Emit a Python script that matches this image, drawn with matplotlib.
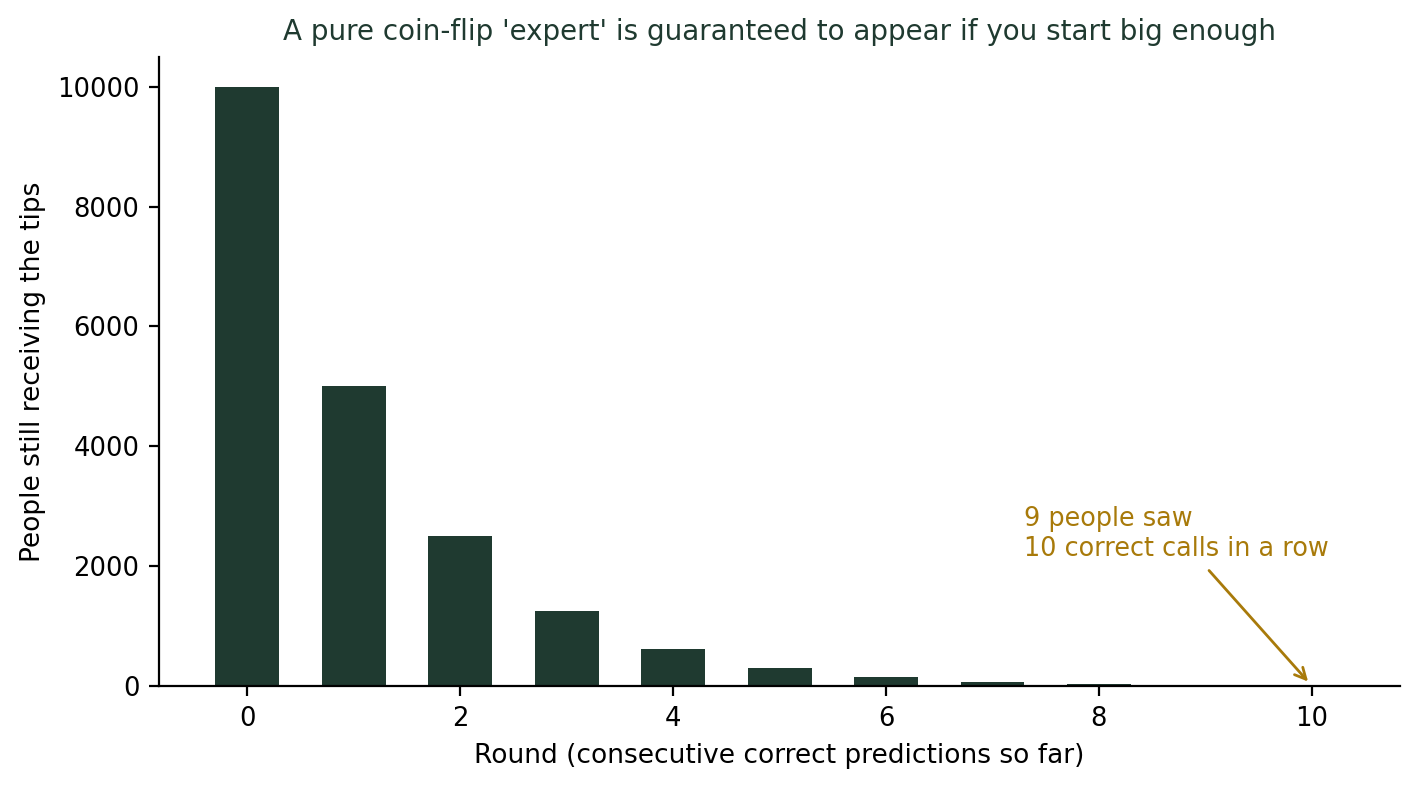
import matplotlib
matplotlib.use("Agg")
import matplotlib.pyplot as plt

rounds = [0, 1, 2, 3, 4, 5, 6, 7, 8, 9, 10]
people = [10000, 5000, 2500, 1250, 625, 312, 156, 78, 39, 19, 9]

bar_color = "#1f3a30"
note_color = "#a87a0a"

fig, ax = plt.subplots(figsize=(7.1, 3.935), dpi=200)
fig.subplots_adjust(left=0.112, right=0.986, top=0.928, bottom=0.128)

ax.bar(rounds, people, width=0.6, color=bar_color)

ax.set_title("A pure coin-flip 'expert' is guaranteed to appear if you start big enough",
             fontsize=10, color=bar_color)
ax.set_xlabel("Round (consecutive correct predictions so far)", fontsize=9.5)
ax.set_ylabel("People still receiving the tips", fontsize=9.5)
ax.tick_params(labelsize=9.3)
ax.spines["top"].set_visible(False)
ax.spines["right"].set_visible(False)

ax.text(7.3, 2080, "9 people saw\n10 correct calls in a row",
        color=note_color, fontsize=9.2, ha="left", va="bottom")
ax.annotate("", xy=(rounds[-1], people[-1]), xytext=(9, 2000),
            arrowprops=dict(arrowstyle="->", color=note_color, lw=1))

fig.savefig("out.png", dpi=200)
